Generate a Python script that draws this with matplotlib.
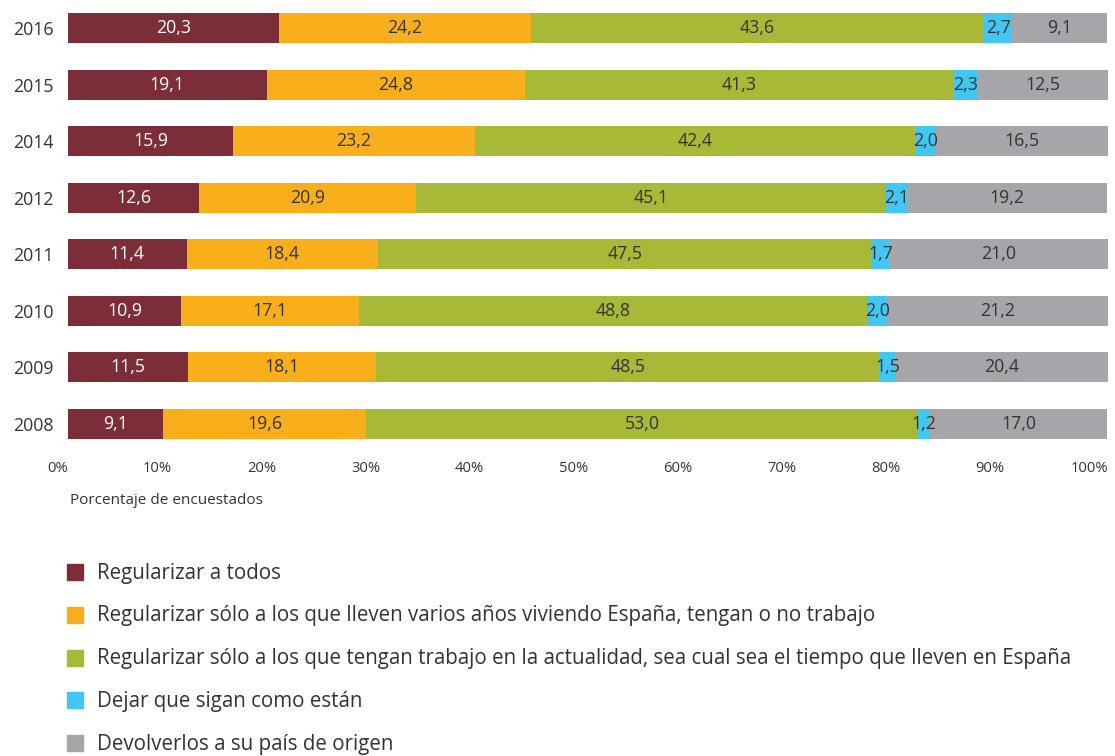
import matplotlib.pyplot as plt
import matplotlib.patches as mpatches
import numpy as np

plt.rcParams['font.family'] = ['Open Sans', 'DejaVu Sans']

years = ['2016', '2015', '2014', '2012', '2011', '2010', '2009', '2008']
categorias = [
    'Regularizar a todos',
    'Regularizar sólo a los que lleven varios años viviendo España, tengan o no trabajo',
    'Regularizar sólo a los que tengan trabajo en la actualidad, sea cual sea el tiempo que lleven en España',
    'Dejar que sigan como están',
    'Devolverlos a su país de origen',
]
todos = [20.3, 19.1, 15.9, 12.6, 11.4, 10.9, 11.5, 9.1]
varios_anos = [24.2, 24.8, 23.2, 20.9, 18.4, 17.1, 18.1, 19.6]
con_trabajo = [43.6, 41.3, 42.4, 45.1, 47.5, 48.8, 48.5, 53.0]
dejar = [2.7, 2.3, 2.0, 2.1, 1.7, 2.0, 1.5, 1.2]
devolver = [9.1, 12.5, 16.5, 19.2, 21.0, 21.2, 20.4, 17.0]
series = [todos, varios_anos, con_trabajo, dejar, devolver]
colores = ['#7b2e37', '#f9ae1b', '#a8b938', '#41c7f2', '#a6a6aa']
color_txt = ['white', '#333333', '#333333', '#333333', '#333333']

fig = plt.figure(figsize=(11.15, 7.56), dpi=100)
ax = fig.add_axes([68 / 1115, 1 - 439 / 756, 1040 / 1115, 426 / 756])

y = np.arange(len(years))
h = 0.53
left = np.zeros(len(years))
for vals, col, tc in zip(series, colores, color_txt):
    vals = np.array(vals)
    ax.barh(y, vals, left=left, height=h, color=col, edgecolor='none')
    for yi, l, v in zip(y, left, vals):
        ax.text(l + v / 2, yi, f'{v:.1f}'.replace('.', ','), ha='center', va='center',
                fontsize=12.8, color=tc)
    left += vals

ax.set_xlim(0, 100)
ax.set_ylim(len(years) - 1 + h / 2, -h / 2)
ax.set_yticks(y)
ax.set_yticklabels(years, fontsize=12.8, color='#333333')
ax.set_xticks(np.arange(0, 101, 10))
ax.set_xticklabels([f'{t}%' for t in range(0, 101, 10)], fontsize=10.6, color='#333333')
for lab in ax.get_xticklabels():
    lab.set_horizontalalignment('right')
ax.tick_params(axis='both', length=0)
ax.tick_params(axis='x', pad=16)
ax.tick_params(axis='y', pad=10)
for s in ax.spines.values():
    s.set_visible(False)

fig.text(70 / 1115, 1 - 501 / 756, 'Porcentaje de encuestados', fontsize=11,
         color='#333333', va='center', ha='left')

# leyenda
for i, (cat, col) in enumerate(zip(categorias, colores)):
    yc = 572 + i * 42.8
    fig.patches.append(mpatches.Rectangle((67 / 1115, 1 - (yc + 8) / 756), 16 / 1115, 16 / 756,
                                          transform=fig.transFigure, color=col))
    fig.text(97 / 1115, 1 - (yc + 1) / 756, cat, fontsize=14.8, color='#333333',
             va='center', ha='left')

fig.savefig('out.png', dpi=100)
